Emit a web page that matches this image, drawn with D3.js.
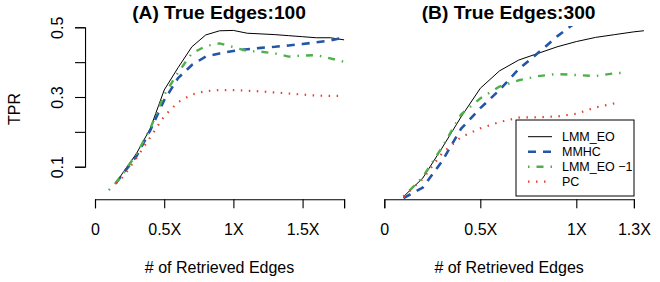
<!DOCTYPE html>
<html>
<head>
<meta charset="utf-8">
<script src="https://cdn.jsdelivr.net/npm/d3@7"></script>
<style>
body { margin: 0; background: #fff; }
text { font-family: "Liberation Sans", Arial, sans-serif; fill: #000; }
</style>
</head>
<body>
<div class="container"></div>
<script>
// panel A : true edges 100
var xA = [0.15,0.2,0.3,0.4,0.5,0.6,0.7,0.8,0.9,1.0,1.1,1.2,1.3,1.4,1.5,1.6,1.7,1.8];
var xA_lmm1 = [0.1,0.15,0.2,0.3,0.4,0.5,0.6,0.7,0.8,0.9,1.0,1.1,1.2,1.3,1.4,1.5,1.6,1.7,1.8];
var lmmA  = [0.052,0.082,0.138,0.210,0.320,0.384,0.444,0.478,0.490,0.491,0.483,0.481,0.479,0.476,0.473,0.470,0.470,0.464];
var mmhcA = [0.052,0.079,0.130,0.205,0.291,0.354,0.392,0.416,0.425,0.432,0.437,0.441,0.444,0.448,0.452,0.457,0.462,0.471];
var lmm1A = [0.033,0.053,0.079,0.136,0.210,0.306,0.370,0.425,0.446,0.454,0.443,0.432,0.430,0.425,0.416,0.419,0.420,0.411,0.401];
var pcA   = [0.052,0.070,0.125,0.185,0.245,0.285,0.307,0.317,0.320,0.320,0.318,0.316,0.313,0.310,0.307,0.304,0.303,0.303];

// panel B : true edges 300
var xB_lmm  = [0.1,0.2,0.3,0.4,0.5,0.6,0.7,0.8,0.9,1.0,1.1,1.2,1.3,1.4];
var xB_mmhc = [0.1,0.2,0.3,0.4,0.5,0.6,0.7,0.8,0.9,1.0];
var xB_lmm1 = [0.1,0.2,0.3,0.4,0.5,0.6,0.7,0.8,0.9,1.0,1.1,1.2,1.26];
var xB_pc   = [0.1,0.2,0.3,0.4,0.5,0.6,0.7,0.8,0.9,1.0,1.1,1.21];
var lmmB  = [0.014,0.067,0.153,0.243,0.325,0.375,0.406,0.425,0.444,0.459,0.471,0.479,0.487,0.493];
var mmhcB = [0.010,0.040,0.115,0.209,0.268,0.320,0.380,0.426,0.474,0.515];
var lmm1B = [0.014,0.070,0.155,0.250,0.296,0.330,0.348,0.360,0.366,0.363,0.360,0.368,0.370];
var pcB   = [0.014,0.065,0.138,0.185,0.210,0.228,0.241,0.242,0.244,0.252,0.270,0.283];

var ylim = [0.025, 0.485];
var yTicks = [0.1,0.2,0.3,0.4,0.5];
var yTickLabels = {0.1: "0.1", 0.3: "0.3", 0.5: "0.5"};
var ticksA = [0, 0.5, 1, 1.5, 1.8];
var tickLabelsA = {0: "0", 0.5: "0.5X", 1: "1X", 1.5: "1.5X", 1.8: ""};
var ticksB = [0, 0.5, 1, 1.3];
var tickLabelsB = {0: "0", 0.5: "0.5X", 1: "1X", 1.3: "1.3X"};
var methods = ["LMM_EO", "MMHC", "LMM_EO \u22121", "PC"];

var styles = [
	{color: "#000000", width: 1, dash: null},
	{color: "#2356a6", width: 2.6, dash: "8,7"},
	{color: "#4eb04a", width: 2.4, dash: "1.5,7,7,7"},
	{color: "#e5432d", width: 2.2, dash: "1.5,6.5"}
];

const WIDTH = 660, HEIGHT = 282;

var svg = d3.select('.container').append('svg')
	.attr('width', WIDTH)
	.attr('height', HEIGHT);

var y = d3.scaleLinear().domain([0.1, 0.5]).range([166.7, 27.3]);
var yPad = 0.04 * (ylim[1] - ylim[0]);

var drawPanel = function(id, xScale, xmax, ticks, tickLabels, series, title){
	var g = svg.append('g');
	var xPad = 0.04 * xmax;

	g.append('clipPath').attr('id', 'clip' + id)
		.append('rect')
		.attr('x', xScale(-xPad))
		.attr('y', y(ylim[1] + yPad))
		.attr('width', xScale(xmax + xPad) - xScale(-xPad))
		.attr('height', y(ylim[0] - yPad) - y(ylim[1] + yPad));

	var axis = d3.axisBottom(xScale)
		.tickValues(ticks)
		.tickFormat(function(d){ return tickLabels[d]; })
		.tickSizeOuter(0)
		.tickSize(9);

	var ax = g.append('g')
		.attr('transform', 'translate(0,' + y(ylim[0] - yPad) + ')')
		.call(axis);
	ax.selectAll('path, line').attr('stroke', '#000').attr('stroke-width', 1.1);
	ax.selectAll('text')
		.attr('y', 36).attr('dy', 0)
		.style('font-size', '16px')
		.style('font-family', '"Liberation Sans", Arial, sans-serif')
		.attr('fill', '#000');

	var line = d3.line()
		.x(function(d){ return xScale(d[0]); })
		.y(function(d){ return y(d[1]); });

	var lines = g.append('g').attr('clip-path', 'url(#clip' + id + ')');
	series.forEach(function(s, i){
		var pts = d3.zip(s.x, s.v);
		lines.append('path')
			.attr('d', line(pts))
			.attr('fill', 'none')
			.attr('stroke', styles[i].color)
			.attr('stroke-width', styles[i].width)
			.attr('stroke-dasharray', styles[i].dash)
			.attr('stroke-linejoin', 'round');
	});

	var cx = (xScale(-xPad) + xScale(xmax + xPad)) / 2;
	g.append('text')
		.attr('x', cx - 0.5).attr('y', 18.5)
		.attr('text-anchor', 'middle')
		.style('font-size', '19.2px')
		.style('font-weight', 'bold')
		.text(title);

	g.append('text')
		.attr('x', cx).attr('y', 273)
		.attr('text-anchor', 'middle')
		.style('font-size', '16px')
		.text('# of Retrieved Edges');

	return {g: g, cx: cx};
};

var xScaleA = d3.scaleLinear().domain([0, 1.8]).range([95, 344.1]);
var xScaleB = d3.scaleLinear().domain([0, 1.3]).range([384.3, 633.9]);

var pA = drawPanel('A', xScaleA, 1.8, ticksA, tickLabelsA, [
	{x: xA, v: lmmA},
	{x: xA, v: mmhcA},
	{x: xA_lmm1, v: lmm1A},
	{x: xA, v: pcA}
], '(A) True Edges:100');

drawPanel('B', xScaleB, 1.3, ticksB, tickLabelsB, [
	{x: xB_lmm, v: lmmB},
	{x: xB_mmhc, v: mmhcB},
	{x: xB_lmm1, v: lmm1B},
	{x: xB_pc, v: pcB}
], '(B) True Edges:300');

// y axis on panel A
var yAxis = d3.axisLeft(y)
	.tickValues(yTicks)
	.tickFormat(function(d){ return yTickLabels[d] || ""; })
	.tickSizeOuter(0)
	.tickSize(10);

var yAx = svg.append('g')
	.attr('transform', 'translate(' + xScaleA(-0.072) + ',0)')
	.call(yAxis);
yAx.selectAll('path, line').attr('stroke', '#000').attr('stroke-width', 1.1);
yAx.selectAll('text')
	.attr('transform', 'rotate(-90)')
	.attr('x', 0).attr('y', -22).attr('dy', 0)
	.attr('text-anchor', 'middle')
	.style('font-size', '16px')
	.style('font-family', '"Liberation Sans", Arial, sans-serif')
	.attr('fill', '#000');

svg.append('text')
	.attr('transform', 'translate(20,109) rotate(-90)')
	.attr('text-anchor', 'middle')
	.style('font-size', '16px')
	.text('TPR');

// legend
var leg = svg.append('g').attr('transform', 'translate(516,120)');
leg.append('rect')
	.attr('width', 118).attr('height', 76)
	.attr('fill', '#fff')
	.attr('stroke', '#000').attr('stroke-width', 1);

var legY = d3.scalePoint().domain(methods).range([16.7, 61.7]);
methods.forEach(function(m, i){
	leg.append('line')
		.attr('x1', 12).attr('x2', 36)
		.attr('y1', legY(m)).attr('y2', legY(m))
		.attr('stroke', styles[i].color)
		.attr('stroke-width', styles[i].width)
		.attr('stroke-dasharray', styles[i].dash);
	leg.append('text')
		.attr('x', 46).attr('y', legY(m) + 4.5)
		.style('font-size', '12.5px')
		.text(m);
});
</script>
</body>
</html>
